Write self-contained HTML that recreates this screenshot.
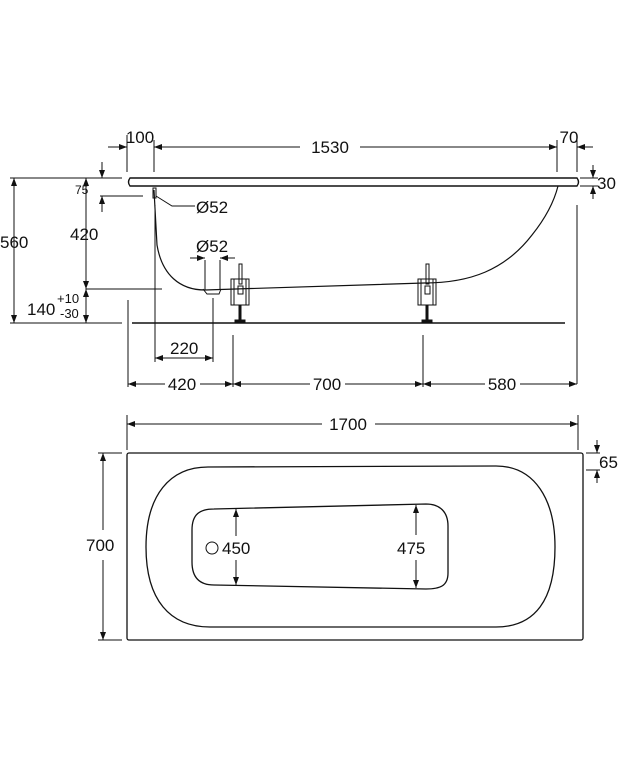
<!DOCTYPE html>
<html><head><meta charset="utf-8"><style>
html,body{margin:0;padding:0;background:#fff;}
svg{display:block;font-family:"Liberation Sans",Arial,sans-serif;}
text{font-size:17px;fill:#111;}
</style></head><body>
<svg width="618" height="770" viewBox="0 0 618 770">
<defs>
<marker id="a" markerWidth="8" markerHeight="6" refX="8" refY="3" orient="auto-start-reverse" markerUnits="userSpaceOnUse"><path d="M0,0 L8,3 L0,6z" fill="#111"/></marker>
</defs>
<g stroke="#111" stroke-width="1" fill="none">
<line x1="127" y1="135" x2="127" y2="172"/>
<line x1="154" y1="140" x2="154" y2="172"/>
<line x1="557" y1="140" x2="557" y2="172"/>
<line x1="577" y1="140" x2="577" y2="172"/>
<line x1="108" y1="147" x2="127" y2="147" marker-end="url(#a)"/>
<line x1="154" y1="147" x2="300" y2="147" marker-start="url(#a)"/>
<line x1="360" y1="147" x2="557" y2="147" marker-end="url(#a)"/>
<line x1="577" y1="147" x2="593" y2="147" marker-start="url(#a)"/>
<path d="M130,178 L577,178 Q580,182 577,186 L130,186 Q127,182 130,178z" stroke-width="1.4"/>
<line x1="580" y1="178" x2="598" y2="178"/><line x1="580" y1="186" x2="598" y2="186"/>
<line x1="593" y1="165" x2="593" y2="178" marker-end="url(#a)"/>
<line x1="593" y1="199" x2="593" y2="186" marker-end="url(#a)"/>
<line x1="577" y1="205" x2="577" y2="384"/>
<line x1="10" y1="178" x2="122" y2="178"/>
<line x1="14" y1="178" x2="14" y2="323" marker-start="url(#a)" marker-end="url(#a)"/>
<line x1="86" y1="178" x2="86" y2="289" marker-start="url(#a)" marker-end="url(#a)"/>
<line x1="86" y1="289" x2="86" y2="323" marker-start="url(#a)" marker-end="url(#a)"/>
<line x1="86" y1="289" x2="162" y2="289"/>
<line x1="100" y1="196" x2="143" y2="196"/>
<line x1="102" y1="162" x2="102" y2="178" marker-end="url(#a)"/>
<line x1="102" y1="212" x2="102" y2="196" marker-end="url(#a)"/>
<line x1="10" y1="323" x2="122" y2="323"/>
<line x1="132" y1="323" x2="565" y2="323" stroke-width="1.4"/>
<path d="M154,190 L157,245 C162,275 180,290 205,290 L424,283 C470,283 505,270 532,235 C548,215 555,198 558,186" stroke-width="1.2"/>
<rect x="153" y="188" width="3" height="10"/>
<path d="M156,196 L172,206 L195,206"/>
<path d="M203,289 L207,294 L219,294 L221,289"/>
<line x1="205" y1="260" x2="205" y2="290"/><line x1="220" y1="260" x2="220" y2="290"/>
<line x1="190" y1="258" x2="205" y2="258" marker-end="url(#a)"/>
<line x1="235" y1="258" x2="220" y2="258" marker-end="url(#a)"/>
<line x1="213" y1="298" x2="213" y2="362"/>
<g>
<rect x="231" y="279" width="18" height="26"/><rect x="234" y="279" width="12" height="26"/>
<rect x="239" y="264" width="3" height="20"/><rect x="238" y="286" width="5" height="8"/>
<line x1="240" y1="305" x2="240" y2="320" stroke-width="3"/><rect x="235" y="320" width="10" height="3" fill="#111"/>
</g>
<g>
<rect x="418" y="279" width="18" height="26"/><rect x="421" y="279" width="12" height="26"/>
<rect x="426" y="264" width="3" height="20"/><rect x="425" y="286" width="5" height="8"/>
<line x1="427" y1="305" x2="427" y2="320" stroke-width="3"/><rect x="422" y="320" width="10" height="3" fill="#111"/>
</g>
<line x1="155" y1="205" x2="155" y2="362"/>
<line x1="155" y1="358" x2="213" y2="358" marker-start="url(#a)" marker-end="url(#a)"/>
<line x1="128" y1="300" x2="128" y2="387"/>
<line x1="233" y1="335" x2="233" y2="387"/>
<line x1="423" y1="335" x2="423" y2="387"/>
<line x1="128" y1="384" x2="165" y2="384" marker-start="url(#a)"/>
<line x1="200" y1="384" x2="233" y2="384" marker-end="url(#a)"/>
<line x1="233" y1="384" x2="310" y2="384" marker-start="url(#a)"/>
<line x1="345" y1="384" x2="423" y2="384" marker-end="url(#a)"/>
<line x1="423" y1="384" x2="485" y2="384" marker-start="url(#a)"/>
<line x1="520" y1="384" x2="577" y2="384" marker-end="url(#a)"/>
<line x1="127" y1="415" x2="127" y2="450"/><line x1="578" y1="415" x2="578" y2="450"/>
<line x1="127" y1="424" x2="322" y2="424" marker-start="url(#a)"/>
<line x1="375" y1="424" x2="578" y2="424" marker-end="url(#a)"/>
<rect x="127" y="453" width="456" height="187" rx="2" stroke-width="1.3"/>
<path d="M208,467 L496,466 C535,466 555,500 555,547 C555,600 535,627 496,627 L210,627 C170,627 146,600 146,547 C146,495 170,467 208,467z" stroke-width="1.3"/>
<path d="M214,509 L426,504 C440,504 448,512 448,526 L448,573 C448,586 440,589 426,589 L214,585 C202,585 192,580 192,562 L192,530 C192,514 200,509 214,509z" stroke-width="1.3"/>
<circle cx="212" cy="548" r="6"/>
<line x1="236" y1="509" x2="236" y2="536" marker-start="url(#a)"/>
<line x1="236" y1="560" x2="236" y2="585" marker-end="url(#a)"/>
<line x1="416" y1="505" x2="416" y2="535" marker-start="url(#a)"/>
<line x1="416" y1="560" x2="416" y2="588" marker-end="url(#a)"/>
<line x1="98" y1="453" x2="122" y2="453"/><line x1="98" y1="640" x2="122" y2="640"/>
<line x1="103" y1="453" x2="103" y2="530" marker-start="url(#a)"/>
<line x1="103" y1="560" x2="103" y2="640" marker-end="url(#a)"/>
<line x1="586" y1="453" x2="600" y2="453"/><line x1="586" y1="470" x2="600" y2="470"/>
<line x1="597" y1="440" x2="597" y2="453" marker-end="url(#a)"/>
<line x1="597" y1="483" x2="597" y2="470" marker-end="url(#a)"/>
</g>
<text x="140" y="143" text-anchor="middle">100</text>
<text x="330" y="153" text-anchor="middle">1530</text>
<text x="569" y="143" text-anchor="middle">70</text>
<text x="597" y="189">30</text>
<text x="0" y="248">560</text>
<text x="70" y="240">420</text>
<text x="75" y="194" style="font-size:12px">75</text>
<text x="196" y="213">Ø52</text>
<text x="196" y="252">Ø52</text>
<text x="27" y="315">140</text>
<text x="57" y="303" style="font-size:13px">+10</text>
<text x="60" y="318" style="font-size:13px">-30</text>
<text x="170" y="354">220</text>
<text x="182" y="390" text-anchor="middle">420</text>
<text x="327" y="390" text-anchor="middle">700</text>
<text x="502" y="390" text-anchor="middle">580</text>
<text x="348" y="430" text-anchor="middle">1700</text>
<text x="599" y="468">65</text>
<text x="86" y="551">700</text>
<text x="222" y="554">450</text>
<text x="397" y="554">475</text>
</svg>
</body></html>
